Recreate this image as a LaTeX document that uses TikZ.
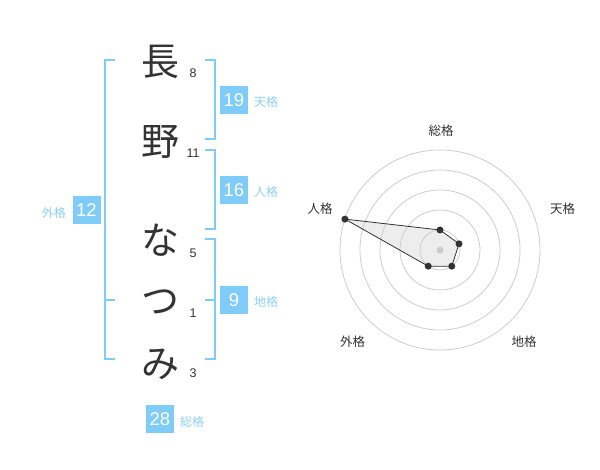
\documentclass[tikz,border=0pt]{standalone}
\usepackage{fontspec}
\setmainfont{Noto Sans CJK JP}
\newfontfamily\numfont{Liberation Sans}
\definecolor{kblue}{HTML}{80CCF9}
\definecolor{klabel}{HTML}{8CD0F7}
\definecolor{kdark}{HTML}{333333}
\definecolor{kring}{HTML}{CCCCCC}
\begin{document}
\begin{tikzpicture}[x=1pt,y=-1pt,
  bigchar/.style={inner sep=0pt, text height=33.44pt, text depth=4.56pt, font=\fontsize{38}{38}\selectfont, text=kdark},
  strokenum/.style={inner sep=0pt, font=\numfont\fontsize{12.5}{12.5}\selectfont, text=kdark},
  valbox/.style={fill=kblue, minimum width=28pt, minimum height=28pt, inner sep=0pt, text=white, font=\numfont\fontsize{18.5}{18.5}\selectfont},
  kaku/.style={inner sep=0pt, text height=10.56pt, text depth=1.44pt, text=klabel, font=\fontsize{12}{12}\selectfont},
  bracket/.style={draw=kblue, line width=2pt},
  ring/.style={draw=kring, line width=0.8pt},
  axlabel/.style={inner sep=0pt, text height=11pt, text depth=1.5pt, text=kdark, font=\fontsize{12.5}{12.5}\selectfont},
  pt/.style={circle, fill=kdark, inner sep=0pt, minimum size=7pt}
]
\useasboundingbox (0,0) rectangle (600,470);
% name characters
\node[bigchar] (c1) at (160,61) {長};
\node[bigchar] (c2) at (160,141) {野};
\node[bigchar] (c3) at (160,240) {な};
\node[bigchar] (c4) at (160,300) {つ};
\node[bigchar] (c5) at (160,363) {み};
% stroke counts
\node[strokenum] (n1) at (193,73) {8};
\node[strokenum] (n2) at (193,153) {11};
\node[strokenum] (n3) at (193,253) {5};
\node[strokenum] (n4) at (193,313) {1};
\node[strokenum] (n5) at (193,373) {3};
% brackets
\draw[bracket] (115,60) -- (105,60) -- (105,359) -- (115,359);
\draw[bracket] (105,300) -- (115,300);
\draw[bracket] (205,60) -- (215,60) -- (215,139) -- (205,139);
\draw[bracket] (205,150) -- (215,150) -- (215,229) -- (205,229);
\draw[bracket] (205,239) -- (215,239) -- (215,359) -- (205,359);
\draw[bracket] (205,300) -- (215,300);
% value boxes
\node[valbox] (ten) at (234,100) {19};
\node[kaku, anchor=west] (tenl) at (254,102) {天格};
\node[valbox] (jin) at (234,190) {16};
\node[kaku, anchor=west] (jinl) at (254,192) {人格};
\node[valbox] (chi) at (234,300) {9};
\node[kaku, anchor=west] (chil) at (254,302) {地格};
\node[valbox] (gai) at (86.5,210) {12};
\node[kaku, anchor=east] (gail) at (66,213) {外格};
\node[valbox] (sou) at (160,419) {28};
\node[kaku, anchor=west] (soul) at (180,422) {総格};
% radar chart
\coordinate (ctr) at (440,250);
\foreach \r in {20,40,60,80,100} \draw[ring] (ctr) circle (\r);
\coordinate (pS) at (440,230);
\coordinate (pT) at (459.0,243.8);
\coordinate (pC) at (451.76,266.18);
\coordinate (pG) at (428.24,266.18);
\coordinate (pJ) at (344.9,219.1);
\fill[kring, fill opacity=0.35] (pS) -- (pT) -- (pC) -- (pG) -- (pJ) -- cycle;
\draw[kdark, line width=0.8pt] (pS) -- (pT) -- (pC) -- (pG) -- (pJ) -- cycle;
\node[circle, fill=kring, inner sep=0pt, minimum size=7pt] (cdot) at (ctr) {};
\foreach \p in {pS,pT,pC,pG,pJ} \node[pt] at (\p) {};
\node[axlabel] (aS) at (441,131) {総格};
\node[axlabel] (aT) at (562.5,208.5) {天格};
\node[axlabel] (aJ) at (320,208.5) {人格};
\node[axlabel] (aG) at (352.5,342) {外格};
\node[axlabel] (aC) at (524,342) {地格};
\end{tikzpicture}
\end{document}
